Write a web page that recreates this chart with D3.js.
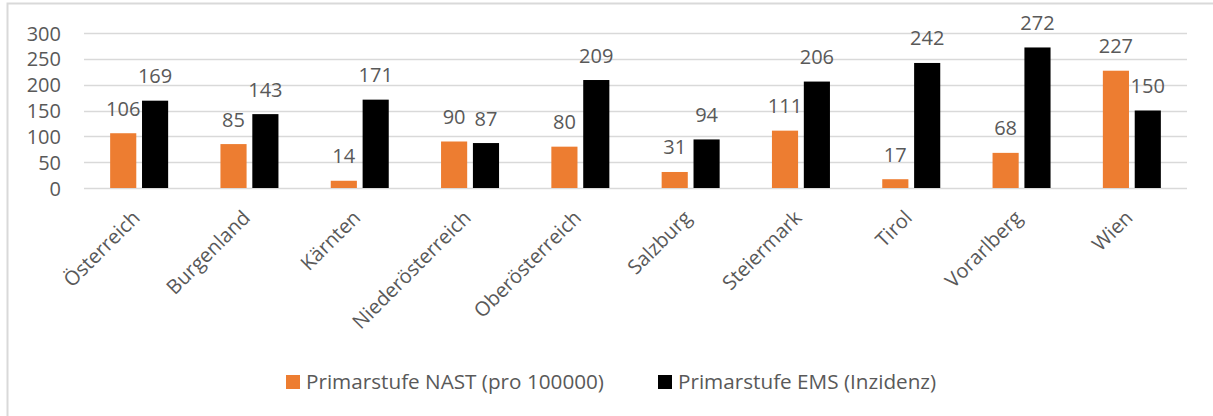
<!DOCTYPE html>
<html>
<head>
<meta charset="utf-8">
<script src="https://cdn.jsdelivr.net/npm/d3@7"></script>
<style>
  html, body { margin: 0; padding: 0; background: #fff; }
  svg { display: block; }
  text { font-family: "Open Sans", sans-serif; fill: #595959; }
</style>
</head>
<body>
<div id="chart"></div>
<script>
// Regions and the two primary-level series
const categories = ["Österreich", "Burgenland", "Kärnten", "Niederösterreich", "Oberösterreich",
                    "Salzburg", "Steiermark", "Tirol", "Vorarlberg", "Wien"];
const seriesNames = ["Primarstufe NAST (pro 100000)", "Primarstufe EMS (Inzidenz)"];
const nastValues = [106, 85, 14, 90, 80, 31, 111, 17, 68, 227];
const emsValues = [169, 143, 171, 87, 209, 94, 206, 242, 272, 150];
const yTicks = [0, 50, 100, 150, 200, 250, 300];
const seriesColors = ["#ED7D31", "#000000"];

const W = 1213, H = 416;
const plot = { left: 84, right: 1187, top: 33, bottom: 188 };

const svg = d3.select("#chart").append("svg")
  .attr("width", W).attr("height", H);

// chart area frame
svg.append("rect")
  .attr("x", 7.5).attr("y", 3.5)
  .attr("width", W + 20).attr("height", H + 20)
  .attr("fill", "#fff").attr("stroke", "#d9d9d9").attr("stroke-width", 2);

const x = d3.scaleBand().domain(categories).range([plot.left, plot.right]).padding(0);
const y = d3.scaleLinear().domain([0, 300]).range([plot.bottom, plot.top]);

const bw = x.bandwidth();
const xs = d3.scaleBand().domain(seriesNames)
  .range([bw / 2 - 29, bw / 2 + 29]).paddingInner(0.18);

// horizontal gridlines
svg.append("g")
  .selectAll("line").data(yTicks).join("line")
  .attr("x1", plot.left).attr("x2", plot.right)
  .attr("y1", d => Math.round(y(d)) + 0.5).attr("y2", d => Math.round(y(d)) + 0.5)
  .attr("stroke", "#d9d9d9").attr("stroke-width", 1.5);

// y axis labels
const yAxis = svg.append("g")
  .attr("transform", `translate(${plot.left - 23},0)`)
  .call(d3.axisLeft(y).tickValues(yTicks).tickSize(0).tickPadding(0));
yAxis.select(".domain").remove();
yAxis.selectAll("text")
  .attr("font-size", 20).attr("font-family", "Open Sans, sans-serif")
  .attr("fill", "#595959").attr("dy", "0.35em");

const rows = categories.map((c, i) => ({ cat: c, vals: [nastValues[i], emsValues[i]] }));

const groups = svg.append("g").selectAll("g").data(rows).join("g")
  .attr("transform", d => `translate(${x(d.cat)},0)`);

const bars = groups.selectAll("g.bar")
  .data(d => d.vals.map((v, k) => ({ name: seriesNames[k], v, k })))
  .join("g").attr("class", "bar");

bars.append("rect")
  .attr("x", d => xs(d.name))
  .attr("width", xs.bandwidth())
  .attr("y", d => y(d.v))
  .attr("height", d => y(0) - y(d.v))
  .attr("fill", d => seriesColors[d.k]);

// value labels above bars
bars.append("text")
  .attr("x", d => xs(d.name) + xs.bandwidth() / 2)
  .attr("y", d => y(d.v) - 17.5)
  .attr("text-anchor", "middle")
  .attr("font-size", 20)
  .text(d => d.v);

// rotated category labels
svg.append("g").selectAll("text").data(categories).join("text")
  .attr("transform", d => `translate(${x(d) + bw / 2 + 2},${plot.bottom + 31}) rotate(-45)`)
  .attr("text-anchor", "end")
  .attr("font-size", 20)
  .text(d => d);

// legend
const legendX = [286, 658];
const legend = svg.append("g").selectAll("g").data(seriesNames).join("g")
  .attr("transform", (d, i) => `translate(${legendX[i]},375)`);
legend.append("rect")
  .attr("width", 14).attr("height", 14)
  .attr("fill", (d, i) => seriesColors[i]);
legend.append("text")
  .attr("x", 20).attr("y", 7).attr("dy", "0.35em")
  .attr("font-size", 20.7)
  .text(d => d);
</script>
</body>
</html>
